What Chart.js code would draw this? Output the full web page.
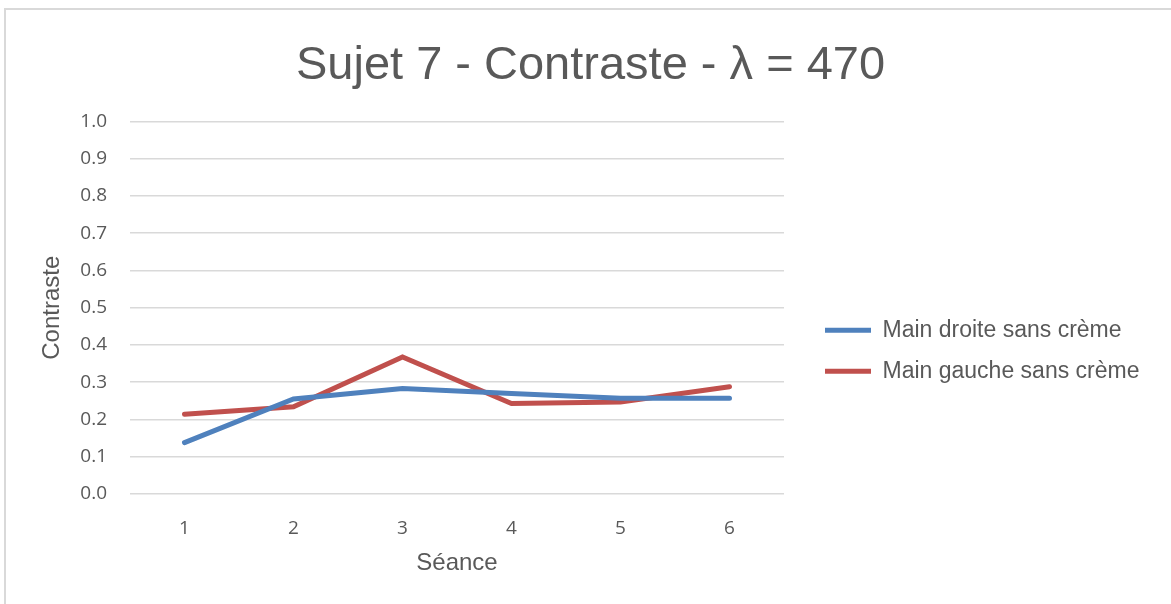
<!DOCTYPE html>
<html>
<head>
<meta charset="utf-8">
<script src="https://cdn.jsdelivr.net/npm/chart.js@4.4.1/dist/chart.umd.min.js"></script>
<style>
    html, body { margin: 0; padding: 0; background: #fff; overflow: hidden; }
    .frame {
        position: absolute; left: 4px; top: 8px; width: 1200px; height: 640px;
        border-left: 2px solid #d9d9d9; border-top: 2px solid #d9d9d9;
    }
    .wrap { position: absolute; left: 0; top: 0; width: 1171px; height: 604px; }
</style>
</head>
<body>
<div class="frame"></div>
<div class="wrap"><canvas id="contrastChart"></canvas></div>
<script>
// Séances and contrast values
const seances = ['1', '2', '3', '4', '5', '6'];
const mainDroite = [0.138, 0.255, 0.283, 0.270, 0.257, 0.257];
const mainGauche = [0.214, 0.234, 0.368, 0.243, 0.247, 0.288];
const yTicks = [0.0, 0.1, 0.2, 0.3, 0.4, 0.5, 0.6, 0.7, 0.8, 0.9, 1.0];

const textColor = '#595959';
const gridColor = '#d9d9d9';

// legend to the right of the plot, title centred on the whole frame (Excel style)
const excelLayout = {
    id: 'excelLayout',
    afterLayout: function(chart) {
        const ca = chart.chartArea;
        const lg = chart.legend;
        if (lg && ca) {
            lg.left = ca.right + 23;
            lg.right = lg.left + lg.width;
            lg.top = ca.top + 43;
            lg.bottom = ca.bottom + 43;
        }
        const tb = chart.titleBlock;
        if (tb) {
            tb.left = 10;
            tb.right = chart.width;
            tb.width = tb.right - tb.left;
        }
    }
};

document.addEventListener('DOMContentLoaded', function() {
    const ctx = document.getElementById('contrastChart');
    new Chart(ctx, {
        type: 'line',
        data: {
            labels: seances,
            datasets: [{
                label: 'Main droite sans crème',
                data: mainDroite,
                borderColor: '#4f81bd',
                backgroundColor: '#4f81bd',
                borderWidth: 5,
                borderCapStyle: 'round',
                pointRadius: 0,
                tension: 0
            }, {
                label: 'Main gauche sans crème',
                data: mainGauche,
                borderColor: '#c0504d',
                backgroundColor: '#c0504d',
                borderWidth: 5,
                borderCapStyle: 'round',
                pointRadius: 0,
                tension: 0
            }]
        },
        plugins: [excelLayout],
        options: {
            responsive: true,
            maintainAspectRatio: false,
            animation: false,
            layout: { padding: { left: 34, right: 387, top: 20, bottom: 22 } },
            plugins: {
                title: {
                    display: true,
                    text: 'Sujet 7 - Contraste - λ = 470',
                    color: textColor,
                    font: { family: 'Liberation Sans', size: 47, weight: 'normal' },
                    padding: { top: 18, bottom: 27 }
                },
                legend: {
                    position: 'chartArea',
                    labels: {
                        color: textColor,
                        font: { family: 'Liberation Sans', size: 23 },
                        usePointStyle: true,
                        pointStyle: 'line',
                        pointStyleWidth: 46,
                        padding: 18
                    }
                },
                tooltip: { enabled: false }
            },
            scales: {
                x: {
                    offset: true,
                    grid: { display: false },
                    border: { display: false },
                    afterFit: function(scale) { scale.height = 88; },
                    ticks: {
                        color: textColor,
                        font: { family: 'Open Sans', size: 19 },
                        padding: 15
                    },
                    title: {
                        display: true,
                        text: 'Séance',
                        color: textColor,
                        font: { family: 'Liberation Sans', size: 24 },
                        padding: { top: 11, bottom: 4 }
                    }
                },
                y: {
                    min: 0,
                    max: 1,
                    afterBuildTicks: function(axis) {
                        axis.ticks = yTicks.map(v => ({ value: v }));
                    },
                    afterFit: function(scale) { scale.width = 96; },
                    grid: { color: gridColor, lineWidth: 1.5, drawTicks: false },
                    border: { display: false },
                    ticks: {
                        color: textColor,
                        font: { family: 'Open Sans', size: 19 },
                        padding: 23,
                        callback: v => Number(v).toFixed(1)
                    },
                    title: {
                        display: true,
                        text: 'Contraste',
                        color: textColor,
                        font: { family: 'Liberation Sans', size: 24 },
                        padding: { top: 4, bottom: 4 }
                    }
                }
            }
        }
    });
});
</script>
</body>
</html>
